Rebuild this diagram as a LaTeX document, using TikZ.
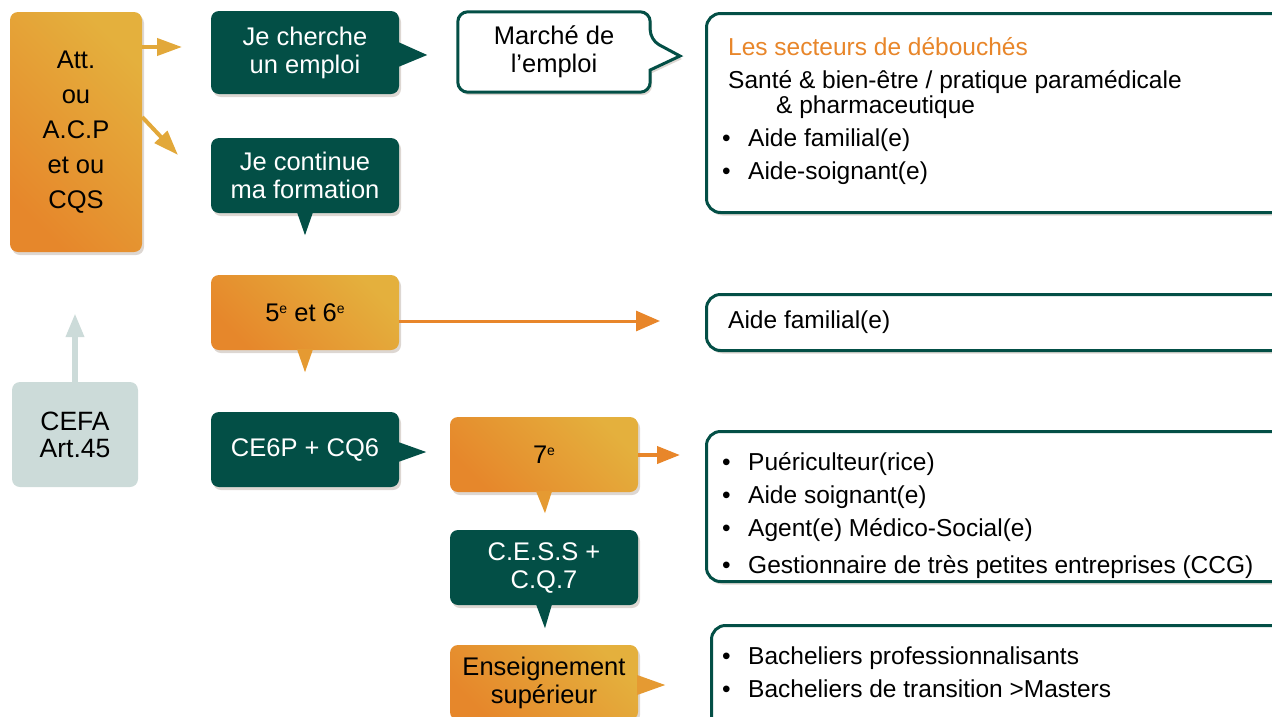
\documentclass[tikz,border=0pt]{standalone}
\usepackage{fontspec}
\setmainfont{Liberation Sans}
\usetikzlibrary{arrows.meta,calc,shadows}
\definecolor{dkgreen}{RGB}{3,79,70}
\definecolor{oyel}{RGB}{228,176,61}
\definecolor{oorg}{RGB}{230,135,43}
\definecolor{omid}{RGB}{229,154,50}
\definecolor{gold}{RGB}{226,168,58}
\definecolor{lorange}{RGB}{232,134,42}
\definecolor{cefac}{RGB}{204,219,217}
\newcommand\fbig{\fontsize{25.5}{28}\selectfont}
\newcommand\fatt{\fontsize{25.5}{35}\selectfont}
\newcommand\flist{\fontsize{24.5}{33}\selectfont}
\newcommand\bul{\hspace*{-6pt}\makebox[26pt][l]{\textbullet}}
\newcommand\supe{\raisebox{8pt}{\fontsize{14}{14}\selectfont e}}
\begin{document}
\begin{tikzpicture}[x=1pt,y=-1pt,
  shd/.style={drop shadow={shadow xshift=2pt,shadow yshift=-3pt,opacity=0.2,fill=black!55!brown}},
  gbox/.style={fill=dkgreen,text=white,rounded corners=8pt,minimum width=188pt,inner sep=0pt,align=center,font=\fbig,shd},
  obox/.style={top color=oyel,bottom color=oorg,shading angle=-45,rounded corners=8pt,minimum width=188pt,inner sep=0pt,align=center,font=\fbig,shd},
  rbox/.style={draw=dkgreen,line width=3pt,fill=white,rounded corners=14pt,minimum width=600pt,anchor=north west,shd},
  ltext/.style={anchor=west,align=left,font=\flist,inner sep=0pt},
  garrow/.style={-{Triangle[length=25pt,width=17pt]},line width=4pt,draw=gold},
]
\useasboundingbox (0,0) rectangle (1272,716);

% left column
\node[obox,minimum width=132pt,minimum height=240pt,font=\fatt] (att) at (76,132) {Att.\\ou\\A.C.P\\et ou\\CQS};
\node[fill=cefac,rounded corners=8pt,minimum width=126pt,minimum height=105pt,inner sep=0pt,align=center,font=\fontsize{26.5}{27}\selectfont] (cefa) at (75,434.5) {CEFA\\Art.45};

% second column
\node[gbox,minimum height=83pt] (cherche) at (305,52.5) {Je cherche\\un emploi};
\fill[dkgreen] ($(cherche.east)+(-1,-10.5)$) -- ($(cherche.east)+(28,2.5)$) -- ($(cherche.east)+(-1,14.5)$) -- cycle;
\node[gbox,minimum height=75pt] (formation) at (305,175.5) {Je continue\\ma formation};
\fill[dkgreen] ($(formation.south)+(-8,-1)$) -- ($(formation.south)+(0,22)$) -- ($(formation.south)+(8,-1)$) -- cycle;
\node[obox,minimum height=75pt] (cinq) at (305,312.5) {5\supe{} et 6\supe};
\fill[omid] ($(cinq.south)+(-8,-1)$) -- ($(cinq.south)+(0,22)$) -- ($(cinq.south)+(8,-1)$) -- cycle;
\node[gbox,minimum height=75pt] (ce6p) at (305,449.5) {CE6P + CQ6};
\fill[dkgreen] ($(ce6p.east)+(-1,-7.5)$) -- ($(ce6p.east)+(27,2.5)$) -- ($(ce6p.east)+(-1,12.5)$) -- cycle;

% third column
\node[inner sep=0pt,minimum width=192pt,minimum height=80pt,align=center,font=\fbig] (marche) at (554,52) {Marché de\\l’emploi};
\coordinate (mtip) at (680,56);
\draw[draw=dkgreen,line width=3pt,fill=white,shd] (marche.north) [rounded corners=10pt] -- (marche.north east) -- ($(marche.east)+(0,-12)$) [sharp corners] -- (mtip) -- ($(marche.east)+(0,18)$) [rounded corners=10pt] -- (marche.south east) -- (marche.south west) -- (marche.north west) -- cycle;
\node[inner sep=0pt,align=center,font=\fbig] at (marche.center) {Marché de\\l’emploi};

\node[obox,minimum height=75pt] (sept) at (544,454.5) {7\supe};
\fill[omid] ($(sept.south)+(-8,-1)$) -- ($(sept.south)+(1,21)$) -- ($(sept.south)+(8,-1)$) -- cycle;
\node[gbox,minimum height=75pt] (cess) at (544,567.5) {C.E.S.S +\\C.Q.7};
\fill[dkgreen] ($(cess.south)+(-8,-1)$) -- ($(cess.south)+(1,23)$) -- ($(cess.south)+(8,-1)$) -- cycle;
\node[obox,minimum height=75pt] (ens) at (544,682.5) {Enseignement\\supérieur};
\fill[omid] ($(ens.east)+(-1,-7.5)$) -- ($(ens.east)+(27,2.5)$) -- ($(ens.east)+(-1,12.5)$) -- cycle;

% right boxes
\node[rbox,minimum height=199pt] (r1) at (705,12) {};
\node[ltext] (t1) at (728,111) {{\color{lorange}Les secteurs de débouchés}\\
Santé \& bien-être / pratique paramédicale\\[-8pt]
\hspace*{48pt}\& pharmaceutique\\
\bul Aide familial(e)\\
\bul Aide-soignant(e)};

\node[rbox,minimum height=56pt] (r2) at (705,293) {};
\node[ltext] (t2) at (728,322) {Aide familial(e)};

\node[rbox,minimum height=150pt] (r3) at (705,430) {};
\node[ltext] (t3) at (728,516) {\bul Puériculteur(rice)\\
\bul Aide soignant(e)\\
\bul Agent(e) Médico-Social(e)\\[4pt]
\bul Gestionnaire de très petites entreprises (CCG)};

\node[rbox,minimum height=110pt] (r4) at (710,624) {};
\node[ltext] (t4) at (728,672) {\bul Bacheliers professionnalisants\\
\bul Bacheliers de transition >Masters};

% connectors
\coordinate (a1) at (182,47);
\draw[garrow] (att.east |- a1) -- (a1);
\coordinate (a2) at (178,155);
\draw[garrow] ($(att.east)+(0,-15)$) -- (a2);
\coordinate (c1) at (75,313);
\draw[-{Triangle[length=24pt,width=17pt]},line width=6pt,draw=cefac] (cefa.north) -- (c1);
\coordinate (o1) at (660,321);
\draw[-{Triangle[length=24pt,width=20pt]},line width=3pt,draw=lorange] (cinq.east |- o1) -- (o1);
\coordinate (o2) at (680,455);
\draw[-{Triangle[length=23pt,width=17pt]},line width=4pt,draw=lorange] (sept.east |- o2) -- (o2);
\end{tikzpicture}
\end{document}
